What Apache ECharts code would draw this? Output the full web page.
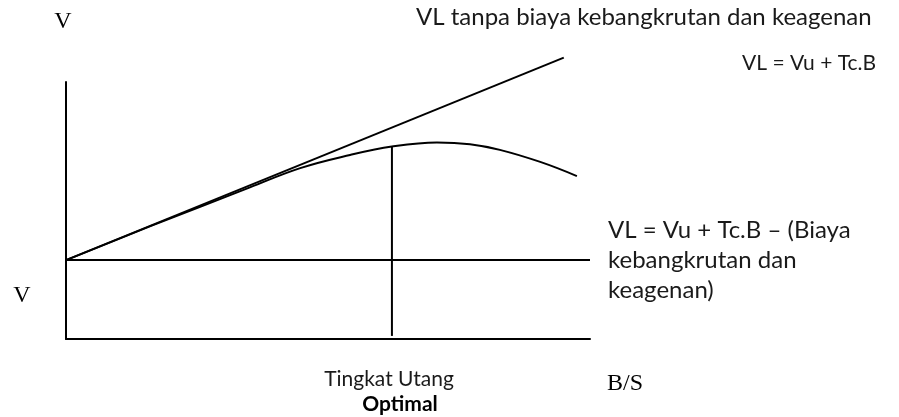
<!DOCTYPE html>
<html>
<head>
<meta charset="utf-8">
<script src="https://cdn.jsdelivr.net/npm/echarts@6/dist/echarts.min.js"></script>
<style>
  html, body { margin: 0; padding: 0; background: #fff; }
  #chart { width: 899px; height: 417px; }
</style>
</head>
<body>
<div id="chart"></div>
<script>
// tingkat utang (B/S) dan nilai perusahaan, dalam satuan bebas 0-100
const vuValue = 30.7;
const straightDebt = [0, 95];
const straightValue = [30.7, 109.5];
const curveDebt = [0, 16, 25.6, 35.1, 44.7, 54.2, 62.2, 70.8, 77.1, 82.8, 90.5, 97.5];
const curveValue = [30.7, 43.8, 51.4, 59.0, 66.5, 71.6, 74.9, 76.5, 75.8, 73.6, 68.9, 63.4];
const optimalDebt = 62.2;
const optimalValue = [1.2, 74.9];

const chart = echarts.init(document.getElementById('chart'));

const lineStyle = { color: '#000', width: 2 };
const textFont = 'Lato, "Open Sans", sans-serif';
const serifFont = '"Liberation Serif", "DejaVu Serif", serif';

const option = {
  animation: false,
  grid: {
    left: 66,
    right: 309,
    top: 82,
    bottom: 78,
  },
  xAxis: {
    type: 'value',
    min: 0,
    max: 100,
    axisLine: { show: true, lineStyle: { color: '#000', width: 2 } },
    axisTick: { show: false },
    axisLabel: { show: false },
    splitLine: { show: false },
  },
  yAxis: {
    type: 'value',
    min: 0,
    max: 100,
    axisLine: { show: true, lineStyle: { color: '#000', width: 2 } },
    axisTick: { show: false },
    axisLabel: { show: false },
    splitLine: { show: false },
  },
  series: [
    { // VL tanpa biaya kebangkrutan
      type: 'line',
      clip: false,
      symbol: 'none',
      lineStyle: lineStyle,
      data: straightDebt.map((d, i) => [d, straightValue[i]]),
    },
    { // VL dengan biaya kebangkrutan dan keagenan
      type: 'line',
      clip: false,
      symbol: 'none',
      smooth: 0.4,
      lineStyle: lineStyle,
      data: curveDebt.map((d, i) => [d, curveValue[i]]),
    },
    { // Vu
      type: 'line',
      symbol: 'none',
      lineStyle: lineStyle,
      data: [[0, vuValue], [100, vuValue]],
    },
    { // tingkat utang optimal
      type: 'line',
      symbol: 'none',
      lineStyle: lineStyle,
      data: optimalValue.map((v) => [optimalDebt, v]),
    },
  ],
  graphic: [
    {
      type: 'text', left: 416, top: 5,
      style: { text: 'VL tanpa biaya kebangkrutan dan keagenan', font: '24px ' + textFont, fill: '#1a1a1a' },
    },
    {
      type: 'text', left: 742, top: 53,
      style: { text: 'VL = Vu + Tc.B', font: '21px ' + textFont, fill: '#1a1a1a' },
    },
    {
      type: 'text', left: 608, top: 215,
      style: {
        text: 'VL = Vu + Tc.B – (Biaya\nkebangkrutan dan\nkeagenan)',
        font: '24px ' + textFont,
        lineHeight: 30,
        fill: '#1a1a1a',
      },
    },
    {
      type: 'text', x: 389, y: 379,
      style: { text: 'Tingkat Utang', font: '21px ' + textFont, fill: '#1a1a1a', align: 'center', verticalAlign: 'middle' },
    },
    {
      type: 'text', x: 400, y: 404,
      style: { text: 'Optimal', font: 'bold 21px ' + textFont, fill: '#000', align: 'center', verticalAlign: 'middle' },
    },
    {
      type: 'text', x: 607, y: 384,
      style: { text: 'B/S', font: '24px ' + serifFont, fill: '#000', align: 'left', verticalAlign: 'middle' },
    },
    {
      type: 'text', x: 63, y: 22,
      style: { text: 'V', font: '24px ' + serifFont, fill: '#000', align: 'center', verticalAlign: 'middle' },
    },
    {
      type: 'text', x: 22, y: 296,
      style: { text: 'V', font: '24px ' + serifFont, fill: '#000', align: 'center', verticalAlign: 'middle' },
    },
  ],
};

chart.setOption(option);
</script>
</body>
</html>
